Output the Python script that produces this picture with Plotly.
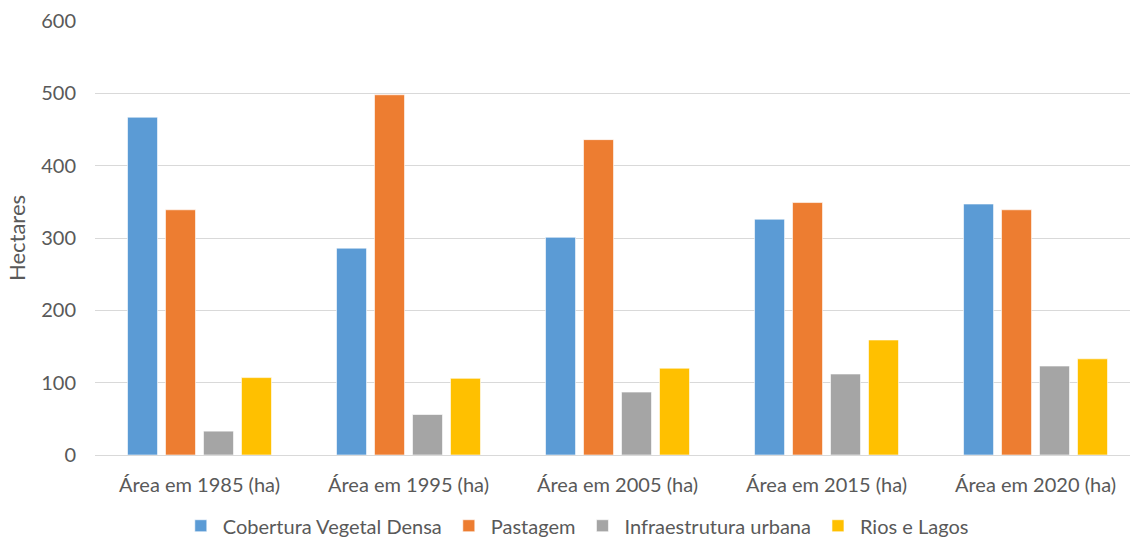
import plotly.graph_objects as go

categories = ["Área em 1985 (ha)", "Área em 1995 (ha)", "Área em 2005 (ha)",
              "Área em 2015 (ha)", "Área em 2020 (ha)"]
vegetacao = [467, 286, 301, 326, 347]
pastagem = [339, 498, 436, 349, 339]
infraestrutura = [33, 56, 87, 112, 123]
rios_lagos = [107, 106, 120, 159, 133]

series = [
    ("Cobertura Vegetal Densa", vegetacao, "#5B9BD5"),
    ("Pastagem", pastagem, "#ED7D31"),
    ("Infraestrutura urbana", infraestrutura, "#A5A5A5"),
    ("Rios e Lagos", rios_lagos, "#FFC000"),
]

FONT = "Lato, 'Open Sans', sans-serif"
TEXT = "#595959"

fig = go.Figure()
for name, vals, color in series:
    fig.add_trace(go.Bar(
        name=name, x=categories, y=vals,
        marker=dict(color=color, line=dict(color="rgba(255,255,255,0.6)", width=1)),
    ))

fig.update_layout(
    width=1130, height=542,
    margin=dict(l=95, r=0, t=21, b=87),
    paper_bgcolor="white", plot_bgcolor="white",
    barmode="group", bargap=0.273, bargroupgap=0.21,
    font=dict(family=FONT, size=20, color=TEXT),
    showlegend=True,
    legend=dict(orientation="h", xref="container", x=0.51, xanchor="center",
                yref="container", y=0.03, yanchor="middle",
                font=dict(size=20, color=TEXT), itemwidth=34,
                traceorder="normal"),
    xaxis=dict(range=[-0.5, 4.452], showgrid=False, showline=True,
               linecolor="#D9D9D9", linewidth=1, ticks="",
               ticklabelstandoff=12,
               tickfont=dict(size=20, color=TEXT)),
    yaxis=dict(range=[0, 600], dtick=100, showgrid=True, gridcolor="#D9D9D9",
               gridwidth=1, zeroline=False, showline=False, ticks="",
               ticklabelstandoff=18,
               tickfont=dict(size=20, color=TEXT),
               title=dict(text="Hectares", font=dict(size=22, color=TEXT), standoff=9)),
)

fig.write_html("out.html")
